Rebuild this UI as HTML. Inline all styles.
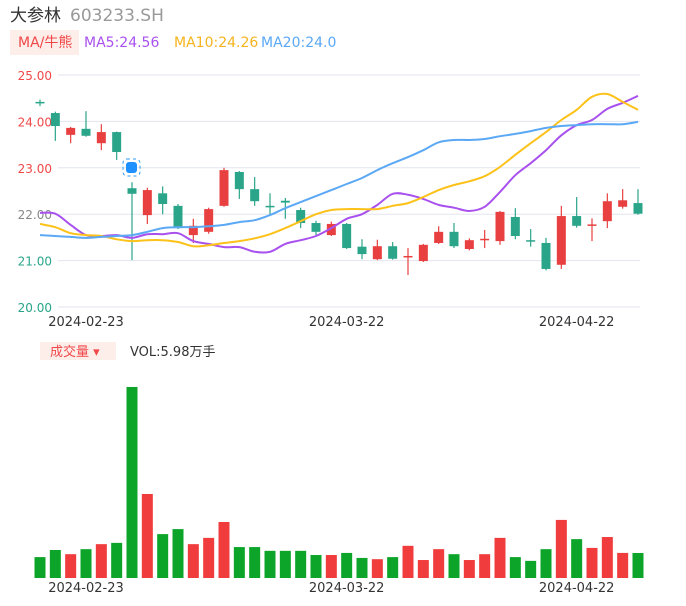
<!DOCTYPE html>
<html><head><meta charset="utf-8">
<style>
body{margin:0;background:#fff;width:686px;height:606px;overflow:hidden;font-family:"DejaVu Sans","Noto Sans CJK SC",sans-serif;}
svg{position:absolute;left:0;top:0}
</style></head>
<body>
<svg id="chart" width="686" height="606" font-family="'DejaVu Sans','Noto Sans CJK SC',sans-serif">
<text x="10" y="21" font-size="17" fill="#333">大参林</text>
<text x="70" y="21" font-size="17" fill="#999">603233.SH</text>
<rect x="10" y="30" width="69" height="25" fill="#fdeeea"/>
<text x="18" y="47" font-size="14" fill="#f04848">MA/牛熊</text>
<text x="84" y="47" font-size="14" fill="#a951ee">MA5:24.56</text>
<text x="174" y="47" font-size="14" fill="#f5b41e">MA10:24.26</text>
<text x="261" y="47" font-size="14" fill="#5ba8f5">MA20:24.0</text>
<g id="grid"></g>
<g id="candles"></g>
<g id="lines"></g>
<g id="vol"></g>
<rect x="40" y="342" width="76" height="18" fill="#fdeeea"/>
<text x="50" y="356" font-size="13" fill="#f04848">成交量 ▾</text>
<text x="130" y="356" font-size="13" fill="#333">VOL:5.98万手</text>
<g>
<rect x="123" y="159" width="17" height="17" rx="4" fill="none" stroke="#2b9cf5" stroke-dasharray="3,3"/>
<rect x="126" y="162" width="11" height="11" rx="3" fill="#1e90ff"/>
</g>
</svg>
<script>
const opens=[24.42,24.18,23.71,23.84,23.53,23.77,22.56,21.98,22.45,22.18,21.55,21.62,22.18,22.91,22.54,22.18,22.29,22.09,21.81,21.55,21.79,21.30,21.03,21.31,21.07,20.99,21.38,21.62,21.25,21.44,21.42,21.94,21.44,21.38,20.91,21.96,21.76,21.85,22.16,22.24];
const closes=[24.40,23.90,23.86,23.69,23.77,23.34,22.44,22.52,22.22,21.70,21.75,22.11,22.95,22.54,22.28,22.15,22.25,21.81,21.62,21.79,21.27,21.14,21.31,21.04,21.10,21.34,21.62,21.31,21.44,21.47,22.05,21.53,21.41,20.82,21.96,21.75,21.78,22.28,22.30,22.01];
const highs=[24.47,24.21,23.88,24.22,23.94,23.78,22.69,22.57,22.60,22.22,21.90,22.14,23.00,22.93,22.80,22.45,22.35,22.14,21.86,21.84,21.81,21.46,21.45,21.40,21.27,21.36,21.74,21.81,21.48,21.66,22.07,22.13,21.68,21.49,22.18,22.37,21.91,22.45,22.54,22.54];
const lows=[24.33,23.58,23.53,23.67,23.38,23.17,21.01,21.79,22.00,21.68,21.38,21.58,22.16,22.33,22.18,21.98,21.90,21.70,21.55,21.53,21.25,21.03,21.01,21.02,20.69,20.97,21.36,21.27,21.22,21.27,21.34,21.46,21.30,20.79,20.82,21.71,21.42,21.70,22.12,21.99];
const ma5=[22.03,22.01,21.77,21.55,21.53,21.55,21.49,21.57,21.57,21.59,21.42,21.36,21.29,21.29,21.19,21.19,21.36,21.44,21.53,21.70,21.90,22.00,22.20,22.44,22.42,22.33,22.20,22.14,22.07,22.16,22.48,22.84,23.10,23.38,23.70,23.92,24.03,24.27,24.40,24.55];
const ma10=[21.79,21.72,21.59,21.55,21.53,21.46,21.42,21.44,21.44,21.40,21.31,21.33,21.38,21.42,21.48,21.57,21.70,21.85,22.00,22.09,22.11,22.11,22.11,22.18,22.24,22.37,22.52,22.63,22.71,22.82,23.02,23.28,23.53,23.77,24.03,24.25,24.53,24.59,24.42,24.25];
const ma20=[21.55,21.53,21.51,21.49,21.51,21.53,21.55,21.62,21.70,21.72,21.72,21.74,21.77,21.83,21.87,21.98,22.13,22.26,22.39,22.52,22.65,22.78,22.95,23.10,23.23,23.38,23.55,23.60,23.60,23.62,23.68,23.73,23.79,23.86,23.90,23.92,23.94,23.94,23.94,23.99];
const volumes=[5.0,6.7,5.7,6.9,8.1,8.4,45.7,20.1,10.5,11.7,8.1,9.6,13.4,7.4,7.4,6.5,6.5,6.5,5.5,5.5,6.0,4.8,4.5,5.0,7.7,4.3,6.9,5.7,4.3,5.7,9.6,5.0,4.1,6.9,13.9,9.3,7.2,9.8,6.0,5.98];
const yTicks=["25.00","24.00","23.00","22.00","21.00","20.00"];
const xTicks=[{i:3,label:"2024-02-23"},{i:20,label:"2024-03-22"},{i:35,label:"2024-04-22"}];

const NS="http://www.w3.org/2000/svg";
const xPos=i=>40+i*(598/39);
const yPrice=v=>75+(25-v)*46.4;
const yVol=v=>578-v*4.18;
function mk(tag,attrs,parent){const e=document.createElementNS(NS,tag);for(const k in attrs)e.setAttribute(k,attrs[k]);document.getElementById(parent).appendChild(e);return e;}

yTicks.forEach((t,k)=>{
  const v=parseFloat(t),y=yPrice(v);
  const ln=mk('line',{x1:58,x2:640,y1:y,y2:y,stroke:'#e3e6ef','stroke-width':1},'grid');
  
  
  const col=v>22?'#f04848':(v<22?'#2aa58a':'#888');
  const tx=mk('text',{x:52,y:y+5,'font-size':12,fill:col,'text-anchor':'end'},'grid');
  tx.textContent=t;
  
  
});
xTicks.forEach(t=>{
  [326,592].forEach(y=>{
    const tx=mk('text',{x:xPos(t.i),y:y,'font-size':13,fill:'#333','text-anchor':'middle'},'grid');
    tx.textContent=t.label;
    
    
  });
});
opens.forEach((o,i)=>{
  const c=closes[i],up=c>=o,col=up?'#e84040':'#2aa58a',x=xPos(i);
  const w=mk('line',{x1:x,x2:x,y1:yPrice(highs[i]),y2:yPrice(lows[i]),stroke:col,'stroke-width':1.2},'candles');
  
  
  const top=yPrice(Math.max(o,c)),h=Math.max(1.5,Math.abs(yPrice(o)-yPrice(c)));
  const b=mk('rect',{x:x-4.5,y:top,width:9,height:h,fill:col},'candles');
  
  
  const vb=mk('rect',{x:x-5.5,y:yVol(volumes[i]),width:11,height:578-yVol(volumes[i]),fill:up?'#f03c3c':'#0ca52a'},'vol');
  
  
});
function smooth(arr){
  const pts=arr.map((v,i)=>[xPos(i),yPrice(v)]);
  let d='M'+pts[0][0].toFixed(1)+','+pts[0][1].toFixed(1);
  for(let i=0;i<pts.length-1;i++){
    const p0=pts[Math.max(0,i-1)],p1=pts[i],p2=pts[i+1],p3=pts[Math.min(pts.length-1,i+2)];
    const c1=[p1[0]+(p2[0]-p0[0])/6,p1[1]+(p2[1]-p0[1])/6];
    const c2=[p2[0]-(p3[0]-p1[0])/6,p2[1]-(p3[1]-p1[1])/6];
    d+='C'+c1.map(n=>n.toFixed(1)).join(',')+' '+c2.map(n=>n.toFixed(1)).join(',')+' '+p2[0].toFixed(1)+','+p2[1].toFixed(1);
  }
  return d;
}
[[ma5,'#a951ee','ma5-line'],[ma10,'#fcc21a','ma10-line'],[ma20,'#5ba8f5','ma20-line']].forEach(([arr,col,name])=>{
  const p=mk('path',{d:smooth(arr),fill:'none',stroke:col,'stroke-width':2,'stroke-linejoin':'round'},'lines');
  
  
});
</script>
</body></html>
